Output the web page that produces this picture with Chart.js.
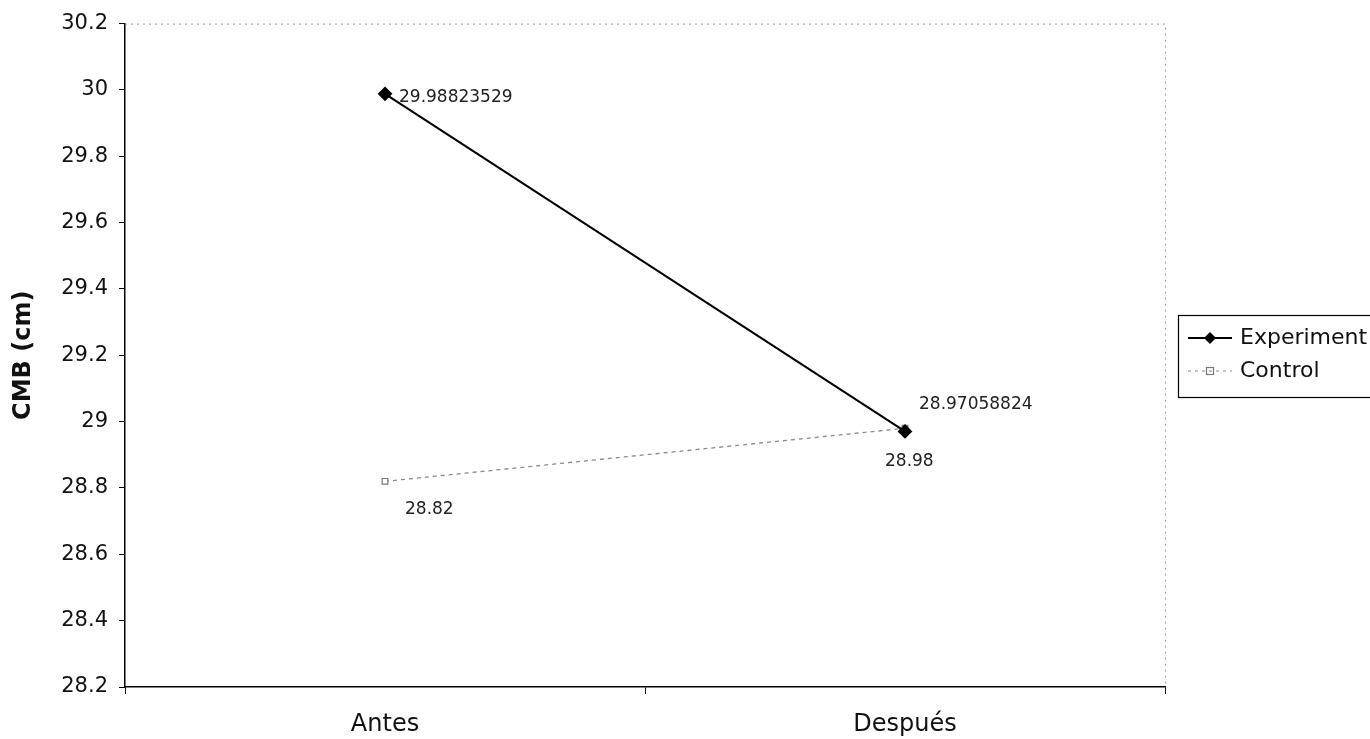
<!DOCTYPE html>
<html>
<head>
<meta charset="utf-8">
<script src="https://cdn.jsdelivr.net/npm/chart.js@4.4.1/dist/chart.umd.min.js"></script>
<style>
html,body{margin:0;padding:0;background:#fff;}
#wrap{width:1370px;height:739px;position:relative;}
</style>
</head>
<body>
<div id="wrap"><canvas id="c" width="1370" height="739"></canvas></div>
<script>
const categories = ["Antes", "Después"];
const experimentValues = [29.98823529, 28.97058824];
const controlValues = [28.82, 28.98];
const yTicks = [28.2, 28.4, 28.6, 28.8, 29, 29.2, 29.4, 29.6, 29.8, 30, 30.2];
const seriesNames = ["Experiment", "Control"];
const yTitle = "CMB (cm)";

const FONT = "'DejaVu Sans', Verdana, sans-serif";

// label offsets (style, not data)
const labelOffsets = [
  [{dx: 14, dy: 4}, {dx: 14, dy: -27}],
  [{dx: 20, dy: 28}, {dx: -20, dy: 33}]
];

const labelPlugin = {
  id: 'labels',
  afterDatasetsDraw(chart) {
    const ctx = chart.ctx;
    ctx.save();
    ctx.font = "17px " + FONT;
    ctx.fillStyle = "#222";
    ctx.textBaseline = "middle";
    ctx.textAlign = "left";
    chart.data.datasets.forEach((ds, i) => {
      const meta = chart.getDatasetMeta(i);
      meta.data.forEach((pt, j) => {
        const o = labelOffsets[i][j];
        ctx.fillText(String(ds.data[j]), pt.x + o.dx, pt.y + o.dy);
      });
    });
    ctx.restore();
  },
  afterDraw(chart) {
    const ctx = chart.ctx;
    const a = chart.chartArea;
    ctx.save();
    // y axis title
    ctx.font = "bold 24px " + FONT;
    ctx.fillStyle = "#111";
    ctx.textAlign = "center";
    ctx.textBaseline = "middle";
    ctx.translate(24, (a.top + a.bottom) / 2);
    ctx.rotate(-Math.PI / 2);
    ctx.fillText(yTitle, 0, 0);
    ctx.setTransform(1, 0, 0, 1, 0, 0);
    // dotted top and right plot border
    ctx.strokeStyle = "#999";
    ctx.lineWidth = 1;
    ctx.setLineDash([2, 4]);
    ctx.beginPath();
    ctx.moveTo(a.left, a.top + 0.5);
    ctx.lineTo(a.right + 0.5, a.top + 0.5);
    ctx.lineTo(a.right + 0.5, a.bottom);
    ctx.stroke();
    ctx.setLineDash([]);
    // legend
    const lx = 1178, ly = 315, lw = 200, lh = 82;
    ctx.strokeStyle = "#000";
    ctx.lineWidth = 1.2;
    ctx.strokeRect(lx + 0.5, ly + 0.5, lw, lh);
    ctx.font = "22px " + FONT;
    ctx.textBaseline = "middle";
    ctx.textAlign = "left";
    // Experiment
    let y = ly + 23;
    ctx.strokeStyle = "#000";
    ctx.lineWidth = 2;
    ctx.beginPath(); ctx.moveTo(lx + 10, y); ctx.lineTo(lx + 54, y); ctx.stroke();
    ctx.fillStyle = "#000";
    ctx.beginPath();
    ctx.moveTo(lx + 32, y - 6); ctx.lineTo(lx + 38, y); ctx.lineTo(lx + 32, y + 6); ctx.lineTo(lx + 26, y);
    ctx.closePath(); ctx.fill();
    ctx.fillStyle = "#111";
    ctx.fillText(seriesNames[0], lx + 62, y);
    // Control
    y = ly + 56;
    ctx.strokeStyle = "#888";
    ctx.lineWidth = 1.2;
    ctx.setLineDash([3, 4]);
    ctx.beginPath(); ctx.moveTo(lx + 10, y); ctx.lineTo(lx + 54, y); ctx.stroke();
    ctx.setLineDash([]);
    ctx.strokeStyle = "#777";
    ctx.strokeRect(lx + 28.5, y - 3.5, 7, 7);
    ctx.fillStyle = "#111";
    ctx.fillText(seriesNames[1], lx + 62, y);
    ctx.restore();
  }
};

new Chart(document.getElementById('c'), {
  type: 'line',
  data: {
    labels: categories,
    datasets: [
      {
        label: seriesNames[0],
        data: experimentValues,
        borderColor: '#000',
        backgroundColor: '#000',
        borderWidth: 2,
        pointStyle: 'rectRot',
        pointRadius: 6,
        pointBackgroundColor: '#000',
        pointBorderColor: '#000',
        tension: 0
      },
      {
        label: seriesNames[1],
        data: controlValues,
        borderColor: '#8a8a8a',
        backgroundColor: '#fff',
        borderWidth: 1.3,
        borderDash: [4, 4],
        pointStyle: 'rect',
        pointRadius: 4,
        pointBorderWidth: 1.2,
        pointBackgroundColor: '#fff',
        pointBorderColor: '#777',
        tension: 0
      }
    ]
  },
  options: {
    responsive: false,
    animation: false,
    layout: { padding: { top: 22, right: 205, left: 0, bottom: 0 } },
    plugins: { legend: { display: false }, tooltip: { enabled: false } },
    scales: {
      x: {
        type: 'category',
        offset: true,
        grid: { offset: true, drawOnChartArea: false, drawTicks: true, tickLength: 7, color: '#000', lineWidth: 1 },
        border: { display: true, color: '#000', width: 1.5 },
        ticks: { color: '#111', font: { family: FONT, size: 24 }, padding: 16 },
        afterFit(scale) { scale.height = 52; }
      },
      y: {
        min: 28.2,
        max: 30.2,
        afterBuildTicks(scale) { scale.ticks = yTicks.map(v => ({ value: v })); },
        grid: { drawOnChartArea: false, drawTicks: true, tickLength: 6, color: '#000', lineWidth: 1 },
        border: { display: true, color: '#000', width: 1.5 },
        ticks: {
          color: '#111',
          font: { family: FONT, size: 21 },
          padding: 11,
          callback: v => String(Math.round(v * 10) / 10)
        },
        title: { display: false },
        afterFit(scale) { scale.width = 125; }
      }
    }
  },
  plugins: [labelPlugin]
});
</script>
</body>
</html>
